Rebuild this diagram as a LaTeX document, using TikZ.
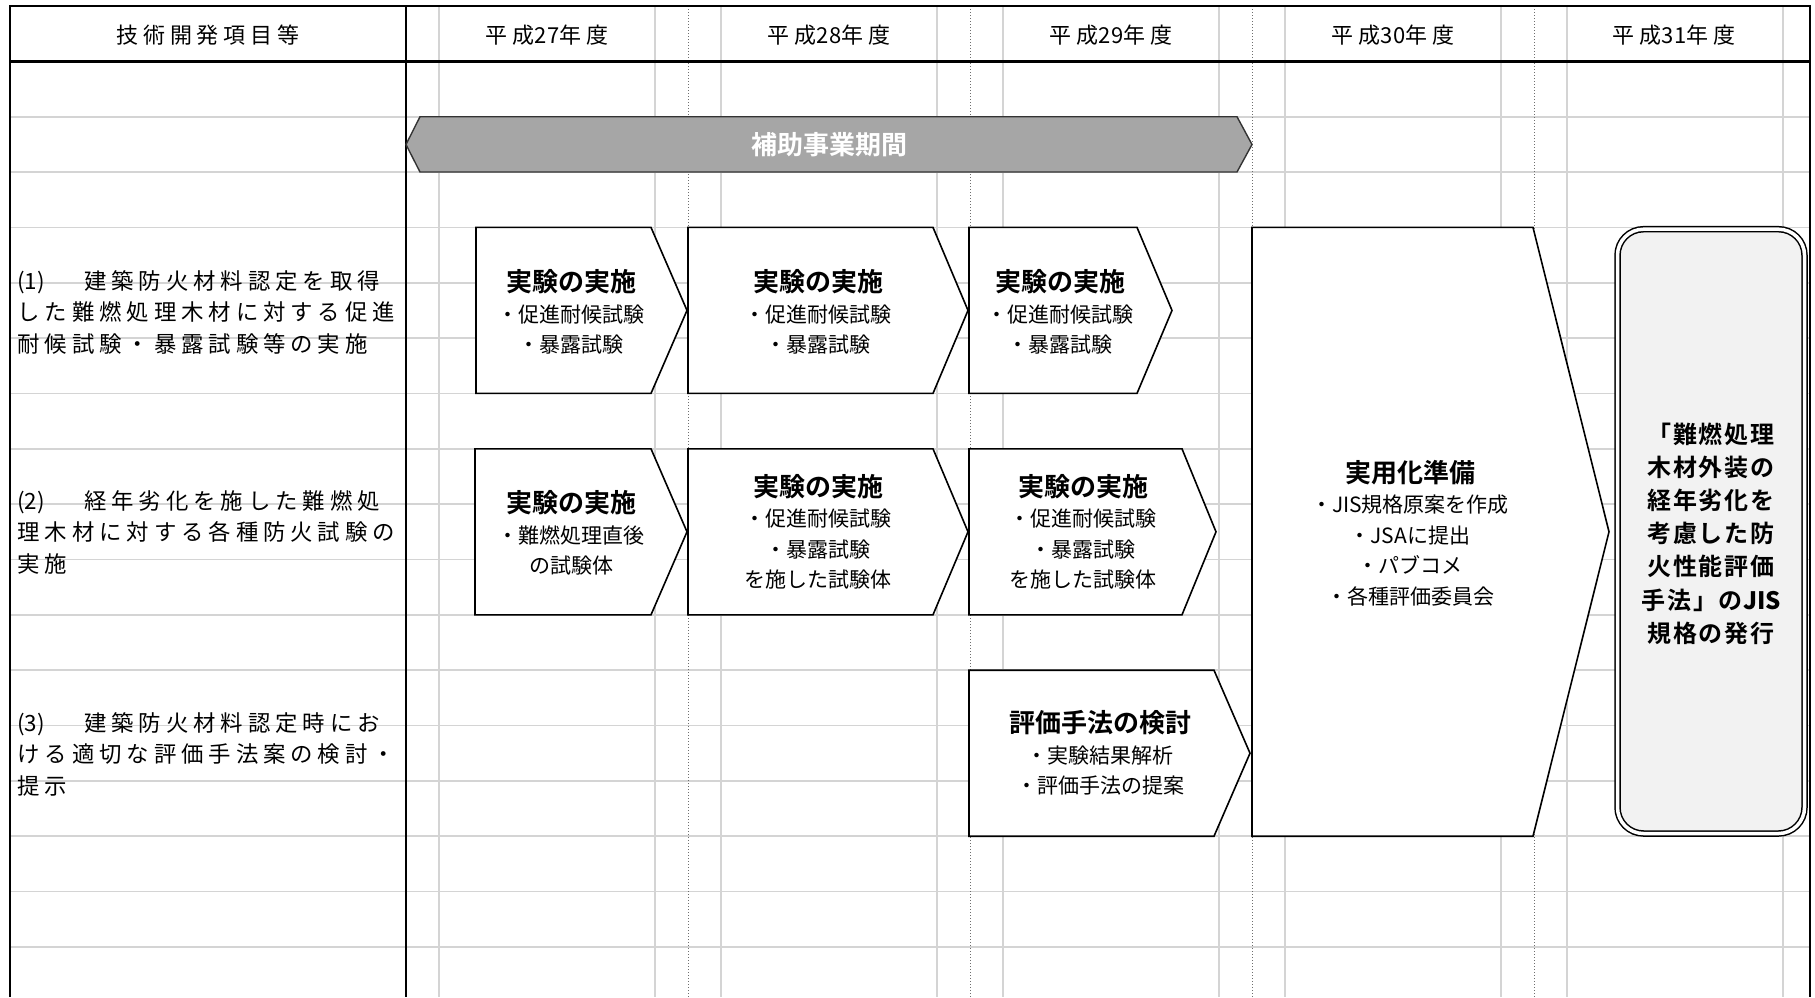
\documentclass[tikz,border=0pt]{standalone}
\usepackage{fontspec}
\setmainfont{Noto Sans CJK JP}[BoldFont={* Bold}]
\newfontfamily\spacedfont{Noto Sans CJK JP}[LetterSpace=22]
\newfontfamily\tightfont{Noto Sans CJK JP}
\newfontfamily\goalfont{Noto Sans CJK JP Bold}[LetterSpace=8]
\definecolor{gridgray}{RGB}{212,212,212}
\definecolor{divgray}{RGB}{110,110,110}
\definecolor{bargray}{RGB}{166,166,166}
\definecolor{goalfill}{RGB}{242,242,242}
\newcommand{\steptitle}[1]{{\bfseries\fontsize{13}{15.25}\selectfont #1}}
\newcommand{\tightnum}[1]{{\tightfont #1}}
\tikzset{
  gridline/.style={draw=gridgray, line width=0.85pt},
  yeardiv/.style={draw=divgray, line width=0.5pt, densely dotted},
  frameline/.style={draw=black, line width=1.2pt},
  stepbox/.style={draw=black, fill=white, line width=0.8pt},
  periodbar/.style={draw=black!80, fill=bargray, line width=0.7pt},
  goalbox/.style={draw=black, fill=goalfill, double=white, double distance=1.75pt, line width=0.75pt, rounded corners=13pt},
  headtext/.style={font=\spacedfont\fontsize{11}{14}\selectfont, inner sep=0pt},
  labeltext/.style={font=\spacedfont\fontsize{11.2}{15.75}\selectfont, align=left, anchor=west, inner sep=0pt},
  steptext/.style={font=\fontsize{10.5}{15.25}\selectfont, align=center, inner sep=0pt},
  bartext/.style={font=\bfseries\fontsize{13}{15}\selectfont, text=white, inner sep=0pt},
  goaltext/.style={font=\goalfont\fontsize{12}{16.6}\selectfont, align=center, inner sep=0pt}
}
\begin{document}
\begin{tikzpicture}[x=0.5pt, y=-0.5pt]
    \useasboundingbox[fill=white] (0,0) rectangle (1815,997);
    \foreach \k in {1,...,16}
        \draw[gridline] (10,{61.3+55.35*\k}) -- (1810,{61.3+55.35*\k});
    \foreach \c in {406,688,970,1252,1534} {
        \draw[gridline] (\c+33,6) -- (\c+33,997);
        \draw[gridline] (\c+249,6) -- (\c+249,997);
    }
    \foreach \c in {688,970,1252,1534}
        \draw[yeardiv] (\c,6) -- (\c,997);
    \draw[frameline] (10,997) -- (10,6) -- (1810,6) -- (1810,997);
    \draw[frameline] (10,61.3) -- (1810,61.3);
    \draw[frameline] (406,6) -- (406,997);

    \node[headtext] (hitem) at (208,35) {技術開発項目等};
    \node[headtext] (h27) at (547,35) {平成\tightnum{27}年度};
    \node[headtext] (h28) at (829,35) {平成\tightnum{28}年度};
    \node[headtext] (h29) at (1111,35) {平成\tightnum{29}年度};
    \node[headtext] (h30) at (1393,35) {平成\tightnum{30}年度};
    \node[headtext] (h31) at (1674,35) {平成\tightnum{31}年度};

    \draw[periodbar] (406,144.5) -- (420,116.7) -- (1237,116.7) -- (1252,144.5) -- (1237,172) -- (420,172) -- cycle;
    \node[bartext] (period) at (829,144.5) {補助事業期間};

    \node[labeltext] (lab1) at (17,312) {\tightnum{(1)}\hspace{6pt}　建築防火材料認定を取得\\した難燃処理木材に対する促進\\耐候試験・暴露試験等の実施};
    \node[labeltext] (lab2) at (17,532) {\tightnum{(2)}\hspace{6pt}　経年劣化を施した難燃処\\理木材に対する各種防火試験の\\実施};
    \node[labeltext] (lab3) at (17,754) {\tightnum{(3)}\hspace{6pt}　建築防火材料認定時にお\\ける適切な評価手法案の検討・\\提示};

    \draw[stepbox] (476,227.4) -- (651,227.4) -- (687,310.4) -- (651,393.4) -- (476,393.4) -- cycle;
    \draw[stepbox] (688,227.4) -- (933,227.4) -- (968,310.4) -- (933,393.4) -- (688,393.4) -- cycle;
    \draw[stepbox] (969,227.4) -- (1137,227.4) -- (1172,310.4) -- (1137,393.4) -- (969,393.4) -- cycle;
    \draw[stepbox] (475,448.8) -- (651,448.8) -- (687,531.8) -- (651,614.8) -- (475,614.8) -- cycle;
    \draw[stepbox] (688,448.8) -- (933,448.8) -- (968,531.8) -- (933,614.8) -- (688,614.8) -- cycle;
    \draw[stepbox] (969,448.8) -- (1182,448.8) -- (1216,531.8) -- (1182,614.8) -- (969,614.8) -- cycle;
    \draw[stepbox] (969,670.2) -- (1214,670.2) -- (1250,753.2) -- (1214,836.2) -- (969,836.2) -- cycle;
    \draw[stepbox] (1252,227.4) -- (1533,227.4) -- (1609,531.8) -- (1533,836.2) -- (1252,836.2) -- cycle;

    \node[steptext] (a1) at (571,312) {\steptitle{実験の実施}\\・促進耐候試験\\・暴露試験};
    \node[steptext] (a2) at (818,312) {\steptitle{実験の実施}\\・促進耐候試験\\・暴露試験};
    \node[steptext] (a3) at (1060,312) {\steptitle{実験の実施}\\・促進耐候試験\\・暴露試験};
    \node[steptext] (b1) at (571,533) {\steptitle{実験の実施}\\・難燃処理直後\\の試験体};
    \node[steptext] (b2) at (818,532) {\steptitle{実験の実施}\\・促進耐候試験\\・暴露試験\\を施した試験体};
    \node[steptext] (b3) at (1083,532) {\steptitle{実験の実施}\\・促進耐候試験\\・暴露試験\\を施した試験体};
    \node[steptext] (c3) at (1100,753) {\steptitle{評価手法の検討}\\・実験結果解析\\・評価手法の提案};
    \node[steptext] (prep) at (1410,533) {\steptitle{実用化準備}\\・JIS規格原案を作成\\・JSAに提出\\・パブコメ\\・各種評価委員会};

    \draw[goalbox] (1617.5,229.2) rectangle (1804.5,833.5);
    \node[goaltext] (goal) at (1711,533.5) {「難燃処理\\木材外装の\\経年劣化を\\考慮した防\\火性能評価\\手法」の\tightnum{\bfseries JIS}\\規格の発行};
\end{tikzpicture}
\end{document}
